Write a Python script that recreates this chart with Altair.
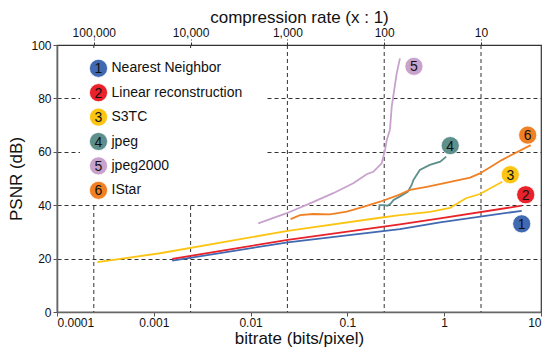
import altair as alt
import pandas as pd

names = ["Nearest Neighbor", "Linear reconstruction", "S3TC", "jpeg", "jpeg2000", "IStar"]
numbers = ["1", "2", "3", "4", "5", "6"]
colors = ["#4169b1", "#e8212a", "#fcc514", "#5d8f8c", "#c8a2cd", "#f08024"]

nn_bitrate = [0.00155, 0.0242, 0.349, 0.906, 6.32]
nn_psnr = [19.2, 26.1, 31.0, 33.6, 37.9]

lin_bitrate = [0.00155, 0.0242, 0.349, 0.906, 6.32]
lin_psnr = [19.9, 27.0, 32.8, 35.1, 39.8]

s3tc_bitrate = [0.000261, 0.00116, 0.0242, 0.217, 0.349, 0.713, 1.148, 1.68, 2.34, 3.98]
s3tc_psnr = [18.7, 22.0, 30.4, 35.3, 36.3, 37.5, 39.0, 42.6, 44.2, 48.8]

jpeg_bitrate = [0.212, 0.215, 0.24, 0.26, 0.28, 0.30, 0.35, 0.42, 0.46, 0.48, 0.56, 0.71, 0.91, 1.05]
jpeg_psnr = [38.2, 40.0, 40.0, 39.8, 40.6, 42.0, 43.3, 45.0, 47.5, 49.4, 53.2, 55.1, 56.3, 58.2]

j2k_bitrate = [0.012, 0.0236, 0.0411, 0.0715, 0.115, 0.158, 0.185, 0.226, 0.245, 0.255, 0.275, 0.287, 0.323, 0.349]
j2k_psnr = [33.2, 37.0, 40.7, 44.5, 48.2, 51.6, 52.5, 55.7, 60.7, 64.4, 68.2, 76.9, 89.4, 95.0]

istar_bitrate = [0.0259, 0.0324, 0.0444, 0.0661, 0.0984, 0.146, 0.217, 0.336, 0.443, 0.659, 0.979, 1.85, 2.34, 3.93, 7.83]
istar_psnr = [34.8, 36.3, 36.7, 36.6, 37.6, 39.4, 41.3, 43.8, 45.7, 46.9, 48.2, 50.3, 51.9, 56.9, 62.5]

bitrate_ticks = [0.0001, 0.001, 0.01, 0.1, 1, 10]
psnr_ticks = [0, 20, 40, 60, 80, 100]
compression_rates = [100000, 10000, 1000, 100, 10]
bits_per_pixel_raw = 24

series = [
    (nn_bitrate, nn_psnr),
    (lin_bitrate, lin_psnr),
    (s3tc_bitrate, s3tc_psnr),
    (jpeg_bitrate, jpeg_psnr),
    (j2k_bitrate, j2k_psnr),
    (istar_bitrate, istar_psnr),
]

rows = []
for name, (bx, py) in zip(names, series):
    for k, (b, p) in enumerate(zip(bx, py)):
        rows.append({"series": name, "order": k, "bitrate": b, "psnr": p})
df = pd.DataFrame(rows)

FONT = "Liberation Sans"
xscale = alt.Scale(type="log", domain=[0.0001, 10])
yscale = alt.Scale(domain=[0, 100])
cscale = alt.Scale(domain=names, range=colors)

x_axis = alt.Axis(
    orient="bottom", values=bitrate_ticks, format="~g", title="bitrate (bits/pixel)",
    grid=False, tickSize=4, domainColor="#666", domainWidth=1.6, tickColor="#555",
    labelBaseline="alphabetic", labelPadding=10.5,
    titleBaseline="alphabetic", titleY=31,
)
y_axis = alt.Axis(
    values=psnr_ticks, title="PSNR (dB)", grid=True, gridDash=[4, 3], gridColor="#333",
    gridWidth=1, tickSize=4, domainColor="#666", domainWidth=1.6, tickColor="#555",
    labelPadding=2, titlePadding=5,
)

# vertical dashed grid + top axis (compression rate)
grid_df = pd.DataFrame({"pos": [bits_per_pixel_raw / r for r in compression_rates]})
vgrid = alt.Chart(grid_df).mark_rule(strokeDash=[4, 3], color="#333", strokeWidth=1).encode(
    x=alt.X("pos:Q", scale=xscale, axis=alt.Axis(
        orient="top", values=grid_df["pos"].tolist(),
        labelExpr=f"format(round({bits_per_pixel_raw}/datum.value), ',')",
        title="compression rate (x : 1)", domain=False, grid=False,
        tickDash=[3, 2], tickSize=6, tickColor="#333",
        labelBaseline="alphabetic", labelPadding=3,
        titleBaseline="alphabetic", titleY=-23,
    ))
)

lines = alt.Chart(df).mark_line(strokeWidth=1.8).encode(
    x=alt.X("bitrate:Q", scale=xscale, axis=x_axis),
    y=alt.Y("psnr:Q", scale=yscale, axis=y_axis),
    color=alt.Color("series:N", scale=cscale, legend=None),
    order="order:Q",
)

data_layers = [lines]

# end-of-line number badges (pixel offsets from the last point)
offsets = [(0, 13), (4, -11), (8, -7), (4, -11), (14, 8), (-3, -10)]
for (name, num, col, (bx, py), (dx, dy)) in zip(names, numbers, colors, series, offsets):
    d = pd.DataFrame({"bitrate": [bx[-1]], "psnr": [py[-1]], "n": [num]})
    enc = dict(
        x=alt.X("bitrate:Q", scale=xscale, axis=x_axis),
        y=alt.Y("psnr:Q", scale=yscale, axis=y_axis),
    )
    data_layers.append(alt.Chart(d).mark_circle(size=330, opacity=1, color=col, stroke="white", strokeWidth=0.8,
                                                xOffset=dx, yOffset=dy).encode(**enc))
    data_layers.append(alt.Chart(d).mark_text(font=FONT, fontSize=14, color="#111", align="center", baseline="middle",
                                              dx=dx, dy=dy + 1).encode(text="n:N", **enc))

inner = alt.layer(*data_layers)

layers = [vgrid, inner]

# legend background (covers the grid lines like the reference box)
legend_bg = alt.Chart(pd.DataFrame({"a": [0]})).mark_rect(color="white").encode(
    x=alt.value(23), x2=alt.value(210), y=alt.value(3), y2=alt.value(158)
)
layers.append(legend_bg)

for i, (name, num, col) in enumerate(zip(names, numbers, colors)):
    ly = 23.3 + 24.4 * i
    d = pd.DataFrame({"t": [name], "n": [num]})
    layers.append(alt.Chart(d).mark_circle(size=330, opacity=1, color=col, stroke="white", strokeWidth=0.8).encode(
        x=alt.value(41.5), y=alt.value(ly)))
    layers.append(alt.Chart(d).mark_text(font=FONT, fontSize=14, color="#111", align="center", baseline="middle").encode(
        x=alt.value(41.5), y=alt.value(ly + 1), text="n:N"))
    layers.append(alt.Chart(d).mark_text(font=FONT, fontSize=14, color="#111", align="left", baseline="middle").encode(
        x=alt.value(54.5), y=alt.value(ly), text="t:N"))

chart = alt.layer(*layers).resolve_axis(x="independent").properties(
    width=484, height=267,
    autosize=alt.AutoSizeParams(type="none"),
    padding={"left": 49, "top": 37, "right": 8, "bottom": 36},
).configure_axis(
    labelFont=FONT, titleFont=FONT, labelFontSize=12, titleFontSize=17,
    titleFontWeight="normal", labelColor="#111", titleColor="#111",
).configure_view(stroke="#333", strokeWidth=1.2)

chart.save("out.html", embed_options={"renderer": "svg", "actions": False})
